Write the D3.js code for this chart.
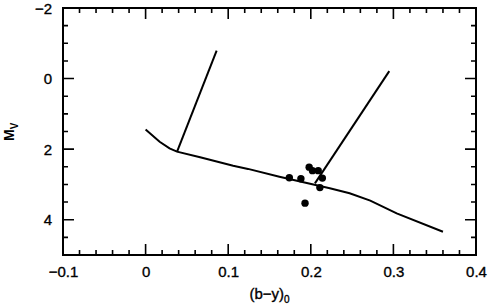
<!DOCTYPE html>
<html>
<head>
<meta charset="utf-8">
<script src="https://cdn.jsdelivr.net/npm/d3@7"></script>
<style>
  body { margin: 0; background: #fff; }
  text { font-family: "Liberation Sans", Arial, sans-serif; fill: #000; }
</style>
</head>
<body>
<svg width="490" height="307"></svg>
<script>
// main sequence curve
let seqX = [0, 0.017, 0.029, 0.038, 0.066, 0.106, 0.124, 0.162, 0.223, 0.247, 0.272, 0.304, 0.360];
let seqY = [1.44, 1.79, 1.98, 2.07, 2.23, 2.47, 2.56, 2.78, 3.11, 3.25, 3.46, 3.82, 4.34];

// two evolutionary tracks (bottom, top)
let track1X = [0.038, 0.086];
let track1Y = [2.08, -0.79];
let track2X = [0.205, 0.295];
let track2Y = [2.97, -0.21];

// stars
let starX = [0.174, 0.188, 0.198, 0.202, 0.209, 0.214, 0.211, 0.193];
let starY = [2.81, 2.84, 2.51, 2.61, 2.61, 2.82, 3.09, 3.53];

let xTicks = [-0.1, 0, 0.1, 0.2, 0.3, 0.4];
let yTicks = [-2, 0, 2, 4];

let svg = d3.select("svg");
let margin = { left: 63, right: 14, top: 8, bottom: 52 };
let w = 490 - margin.left - margin.right;
let h = 307 - margin.top - margin.bottom;

let x = d3.scaleLinear().domain([-0.1, 0.4]).range([0, w]);
let y = d3.scaleLinear().domain([-2, 5]).range([0, h]);

let g = svg.append("g").attr("transform", "translate(" + margin.left + "," + margin.top + ")");

let xMinor = d3.range(0, 26).map(function (i) { return -0.1 + i * 0.02; });
let yMinor = d3.range(0, 15).map(function (i) { return -2 + i * 0.5; });

// tick marks on all four sides, pointing inward, drawn as one path
let tp = d3.path();
function xTickMarks(vals, len) {
    vals.forEach(function (d) {
        tp.moveTo(x(d), h); tp.lineTo(x(d), h - len);
        tp.moveTo(x(d), 0); tp.lineTo(x(d), len);
    });
}
function yTickMarks(vals, len) {
    vals.forEach(function (d) {
        tp.moveTo(0, y(d)); tp.lineTo(len, y(d));
        tp.moveTo(w, y(d)); tp.lineTo(w - len, y(d));
    });
}
xTickMarks(xMinor, 5);
yTickMarks(yMinor, 5);
xTickMarks(xTicks, 11);
yTickMarks(yTicks, 11);
g.append("path").attr("d", tp.toString())
    .attr("fill", "none").attr("stroke", "#000").attr("stroke-width", 1.6);

// tick labels through the axis generators
let xAxis = g.append("g").attr("transform", "translate(0," + h + ")")
    .call(d3.axisBottom(x).tickValues(xTicks).tickSize(0)
        .tickFormat(function (d) { return d === 0 ? "0" : d3.format(".1f")(d); }));
xAxis.select(".domain").remove();
xAxis.selectAll("text").attr("y", 22).attr("dy", 0).style("font-size", "15px")
    .attr("stroke", "#000").attr("stroke-width", 0.35);

let yAxis = g.append("g")
    .call(d3.axisLeft(y).tickValues(yTicks).tickSize(0).tickFormat(d3.format("d")));
yAxis.select(".domain").remove();
yAxis.selectAll("text").attr("x", -11).attr("dy", "0.35em").style("font-size", "15px")
    .attr("stroke", "#000").attr("stroke-width", 0.35);

// frame
g.append("rect").attr("width", w).attr("height", h)
    .attr("fill", "none").attr("stroke", "#000").attr("stroke-width", 2);

let line = d3.line()
    .x(function (d) { return x(d[0]); })
    .y(function (d) { return y(d[1]); });

let seq = d3.zip(seqX, seqY);
let tracks = [d3.zip(track1X, track1Y), d3.zip(track2X, track2Y)];

g.append("path").datum(seq).attr("d", line)
    .attr("fill", "none").attr("stroke", "#000").attr("stroke-width", 2);

g.selectAll(".track").data(tracks).join("path")
    .attr("class", "track").attr("d", line)
    .attr("fill", "none").attr("stroke", "#000").attr("stroke-width", 2);

g.selectAll(".star").data(d3.zip(starX, starY)).join("circle")
    .attr("class", "star")
    .attr("cx", function (d) { return x(d[0]); })
    .attr("cy", function (d) { return y(d[1]); })
    .attr("r", 3.7).attr("fill", "#000");

// axis titles
let xt = svg.append("text")
    .attr("x", margin.left + w / 2).attr("y", 299)
    .attr("text-anchor", "middle").style("font-size", "15px")
    .attr("stroke", "#000").attr("stroke-width", 0.35);
xt.append("tspan").text("(b−y)");
xt.append("tspan").attr("dy", 4).style("font-size", "10px").text("0");

let yt = svg.append("text")
    .attr("transform", "translate(14,141) rotate(-90)")
    .attr("text-anchor", "start").style("font-size", "14px").style("font-weight", "bold");
yt.append("tspan").text("M");
yt.append("tspan").attr("dy", 4).style("font-size", "10px").text("V");
</script>
</body>
</html>
